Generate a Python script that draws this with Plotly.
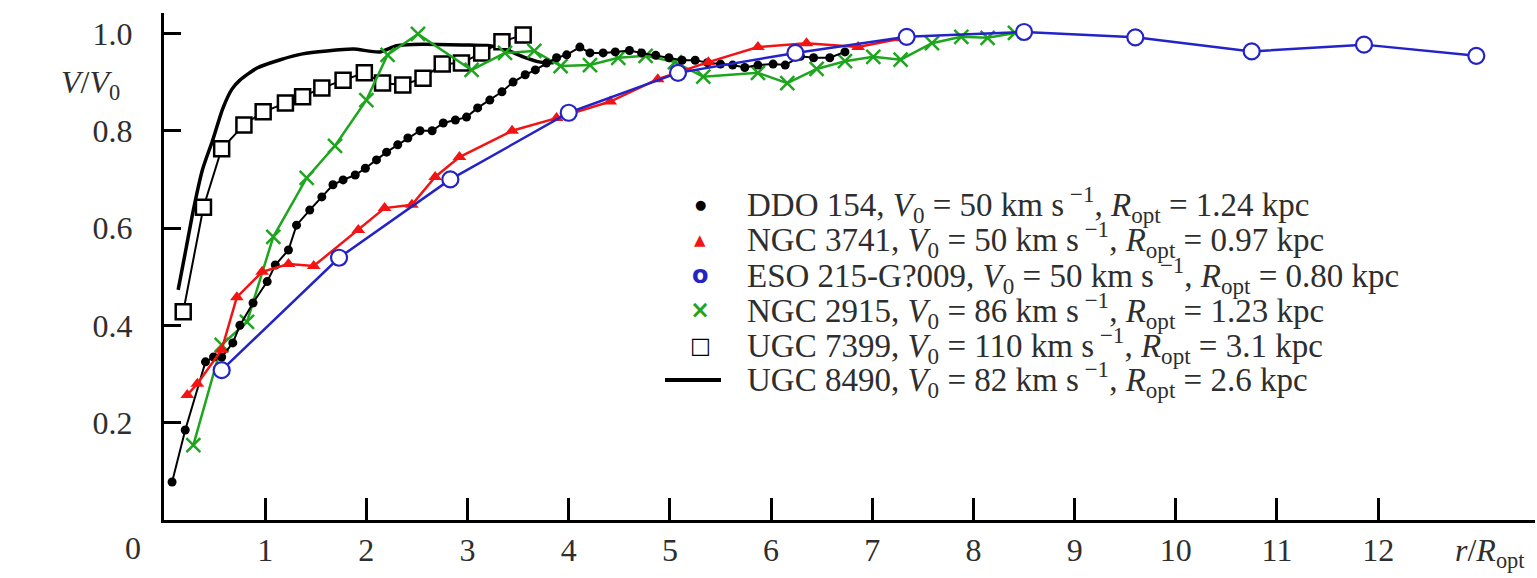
import plotly.graph_objects as go

# ---------------- data ----------------
ddo_x = [0.08, 0.21, 0.41, 0.49, 0.57, 0.68, 0.75, 0.88, 1.02, 1.10, 1.23, 1.31, 1.44, 1.56, 1.67,
         1.77, 1.89, 1.99, 2.10, 2.20, 2.31, 2.41, 2.53, 2.65, 2.76, 2.88, 2.99, 3.10, 3.22, 3.34,
         3.45, 3.57, 3.67, 3.78, 3.88, 3.98, 4.11, 4.21, 4.34, 4.46, 4.60, 4.72, 4.86, 4.99, 5.12,
         5.25, 5.37, 5.50, 5.62, 5.74, 5.87, 6.02, 6.14, 6.29, 6.42, 6.58, 6.73]
ddo_y = [0.078, 0.185, 0.325, 0.335, 0.335, 0.364, 0.400, 0.446, 0.490, 0.524, 0.555, 0.606, 0.637, 0.664, 0.689,
         0.699, 0.709, 0.723, 0.740, 0.756, 0.771, 0.785, 0.800, 0.800, 0.816, 0.822, 0.828, 0.847, 0.863, 0.880,
         0.900, 0.915, 0.925, 0.939, 0.950, 0.956, 0.972, 0.960, 0.960, 0.962, 0.965, 0.960, 0.955, 0.950, 0.945,
         0.945, 0.940, 0.937, 0.935, 0.930, 0.935, 0.937, 0.935, 0.953, 0.950, 0.950, 0.962]

n3741_x = [0.23, 0.33, 0.57, 0.72, 0.97, 1.23, 1.48, 1.92, 2.18, 2.45, 2.68, 2.92, 3.44, 3.88,
           4.41, 4.88, 5.38, 5.87, 6.35, 6.86, 7.30]
n3741_y = [0.257, 0.280, 0.350, 0.458, 0.510, 0.526, 0.522, 0.596, 0.641, 0.648, 0.705, 0.746, 0.800, 0.826,
           0.860, 0.906, 0.941, 0.972, 0.980, 0.972, 0.990]

eso_x = [0.57, 1.73, 2.83, 4.00, 5.08, 6.24, 7.34, 8.50, 9.60, 10.75, 11.86, 12.97]
eso_y = [0.308, 0.539, 0.700, 0.837, 0.919, 0.960, 0.993, 1.003, 0.992, 0.963, 0.977, 0.954]

n2915_x = [0.29, 0.57, 0.82, 1.08, 1.41, 1.69, 2.00, 2.21, 2.51, 3.04, 3.37, 3.66, 3.92, 4.21,
           4.49, 4.76, 5.05, 5.33, 5.87, 6.16, 6.45, 6.73, 7.01, 7.28, 7.59, 7.88, 8.14, 8.41]
n2915_y = [0.154, 0.360, 0.407, 0.582, 0.703, 0.769, 0.863, 0.956, 0.999, 0.925, 0.960, 0.964, 0.933, 0.935,
           0.950, 0.954, 0.941, 0.911, 0.919, 0.898, 0.927, 0.943, 0.952, 0.946, 0.980, 0.993, 0.991, 1.001]

u7399_x = [0.19, 0.39, 0.57, 0.79, 0.98, 1.20, 1.37, 1.56, 1.77, 1.98, 2.16, 2.36, 2.56, 2.75,
           2.94, 3.14, 3.34, 3.55]
u7399_y = [0.428, 0.643, 0.763, 0.812, 0.839, 0.857, 0.870, 0.888, 0.904, 0.919, 0.898, 0.894, 0.908, 0.937,
           0.939, 0.960, 0.983, 0.997]

u8490_x = [0.14, 0.22, 0.29, 0.38, 0.48, 0.58, 0.67, 0.75, 0.92, 1.15, 1.37, 1.61, 1.87, 2.13,
           2.30, 2.56, 3.02, 3.20, 3.40, 3.55, 3.72, 3.85]
u8490_y = [0.473, 0.560, 0.637, 0.720, 0.780, 0.845, 0.885, 0.904, 0.929, 0.946, 0.958, 0.964, 0.968, 0.962,
           0.975, 0.978, 0.976, 0.975, 0.965, 0.952, 0.941, 0.940]

x_ticks = [1, 2, 3, 4, 5, 6, 7, 8, 9, 10, 11, 12]
y_ticks = [0.2, 0.4, 0.6, 0.8, 1.0]

legend_names = ["DDO 154", "NGC 3741", "ESO 215-G?009", "NGC 2915", "UGC 7399", "UGC 8490"]
legend_v0 = ["50", "50", "50", "86", "110", "82"]
legend_ropt = ["1.24", "0.97", "0.80", "1.23", "3.1", "2.6"]

# ---------------- styling ----------------
RED = "#f21414"
BLUE = "#2323c8"
GREEN = "#1ea51e"
BLACK = "#000000"
SERIF = "Liberation Serif"
TXT = "#2e2e2e"

fig = go.Figure()

fig.add_trace(go.Scatter(x=u8490_x, y=u8490_y, mode="lines",
                         line=dict(color=BLACK, width=3.5, shape="spline", smoothing=0.6),
                         name="UGC 8490", showlegend=False))
fig.add_trace(go.Scatter(x=u7399_x, y=u7399_y, mode="lines+markers", line=dict(color=BLACK, width=2),
                         marker=dict(symbol="square", size=15, color="white", line=dict(color=BLACK, width=2.5)),
                         name="UGC 7399", showlegend=False))
fig.add_trace(go.Scatter(x=n2915_x, y=n2915_y, mode="lines+markers", line=dict(color=GREEN, width=2.5),
                         marker=dict(symbol="x-thin", size=14, color=GREEN, line=dict(color=GREEN, width=2.5)),
                         name="NGC 2915", showlegend=False))
fig.add_trace(go.Scatter(x=ddo_x, y=ddo_y, mode="lines+markers", line=dict(color=BLACK, width=2),
                         marker=dict(symbol="circle", size=9, color=BLACK),
                         name="DDO 154", showlegend=False))
fig.add_trace(go.Scatter(x=n3741_x, y=n3741_y, mode="lines+markers", line=dict(color=RED, width=2.5),
                         marker=dict(symbol="triangle-up", size=12, color=RED),
                         name="NGC 3741", showlegend=False))
fig.add_trace(go.Scatter(x=eso_x, y=eso_y, mode="lines+markers", line=dict(color=BLUE, width=2.5),
                         marker=dict(symbol="circle", size=16, color="white", line=dict(color=BLUE, width=2.2)),
                         name="ESO 215-G?009", showlegend=False))

# ---------------- legend drawn as text rows (paper coordinates) ----------------
# plot area: x 164..1535 px, y 13..520 px
def px_x(p):
    return (p - 164) / 1371.0

def px_y(p):
    return (520 - p) / 507.0

row_py = [204, 240, 275, 310, 345, 380]
symbols = [
    ("●", BLACK, 13),
    ("▲", RED, 15),
    ("<b>o</b>", BLUE, 24),
    ("<b>×</b>", GREEN, 24),
    ("<b>□</b>", BLACK, 22),
]
for i, name in enumerate(legend_names):
    txt = (f"{name}, <i>V</i><sub>0</sub> = {legend_v0[i]} km s<sup> −1</sup>, "
           f"<i>R</i><sub>opt</sub> = {legend_ropt[i]} kpc")
    fig.add_annotation(x=px_x(745), y=px_y(row_py[i]), xref="paper", yref="paper", text=txt, showarrow=False,
                       xanchor="left", yanchor="middle", font=dict(family=SERIF, size=33, color=TXT))
    if i < len(symbols):
        s, c, fs = symbols[i]
        fig.add_annotation(x=px_x(700), y=px_y(row_py[i]), xref="paper", yref="paper", text=s, showarrow=False,
                           xanchor="center", yanchor="middle", font=dict(family="DejaVu Sans", size=fs, color=c))
fig.add_shape(type="line", xref="paper", yref="paper", x0=px_x(665), x1=px_x(721),
              y0=px_y(row_py[5]), y1=px_y(row_py[5]), line=dict(color=BLACK, width=4))

# axis labels
fig.add_annotation(x=px_x(90), y=px_y(84), xref="paper", yref="paper", text="<i>V</i>/<i>V</i><sub>0</sub>",
                   xanchor="center", yanchor="middle",
                   showarrow=False, font=dict(family=SERIF, size=32, color=TXT))
fig.add_annotation(x=px_x(1490), y=px_y(552), xref="paper", yref="paper", text="<i>r</i>/<i>R</i><sub>opt</sub>",
                   xanchor="center", yanchor="middle",
                   showarrow=False, font=dict(family=SERIF, size=32, color=TXT))
fig.add_annotation(x=px_x(133), y=px_y(548), xref="paper", yref="paper", text="0",
                   xanchor="center", yanchor="middle",
                   showarrow=False, font=dict(family=SERIF, size=32, color=TXT))

fig.update_layout(
    width=1537, height=578,
    margin=dict(l=164, r=2, t=13, b=58),
    paper_bgcolor="white", plot_bgcolor="white",
    showlegend=False,
)
fig.update_xaxes(range=[0, 13.55], showgrid=False, zeroline=False, showline=True, linecolor=BLACK, linewidth=3,
                 tickmode="array", tickvals=x_ticks, ticktext=[str(t) for t in x_ticks],
                 ticks="inside", ticklen=22, tickwidth=3, tickcolor=BLACK,
                 tickfont=dict(family=SERIF, size=32, color=TXT), ticklabelstandoff=0)
fig.update_yaxes(range=[0, 1.042], showgrid=False, zeroline=False, showline=True, linecolor=BLACK, linewidth=3,
                 tickmode="array", tickvals=y_ticks, ticktext=[f"{t:.1f}" for t in y_ticks],
                 ticks="inside", ticklen=17, tickwidth=3, tickcolor=BLACK,
                 tickfont=dict(family=SERIF, size=32, color=TXT), ticklabelstandoff=22)

fig.write_html("out.html")
